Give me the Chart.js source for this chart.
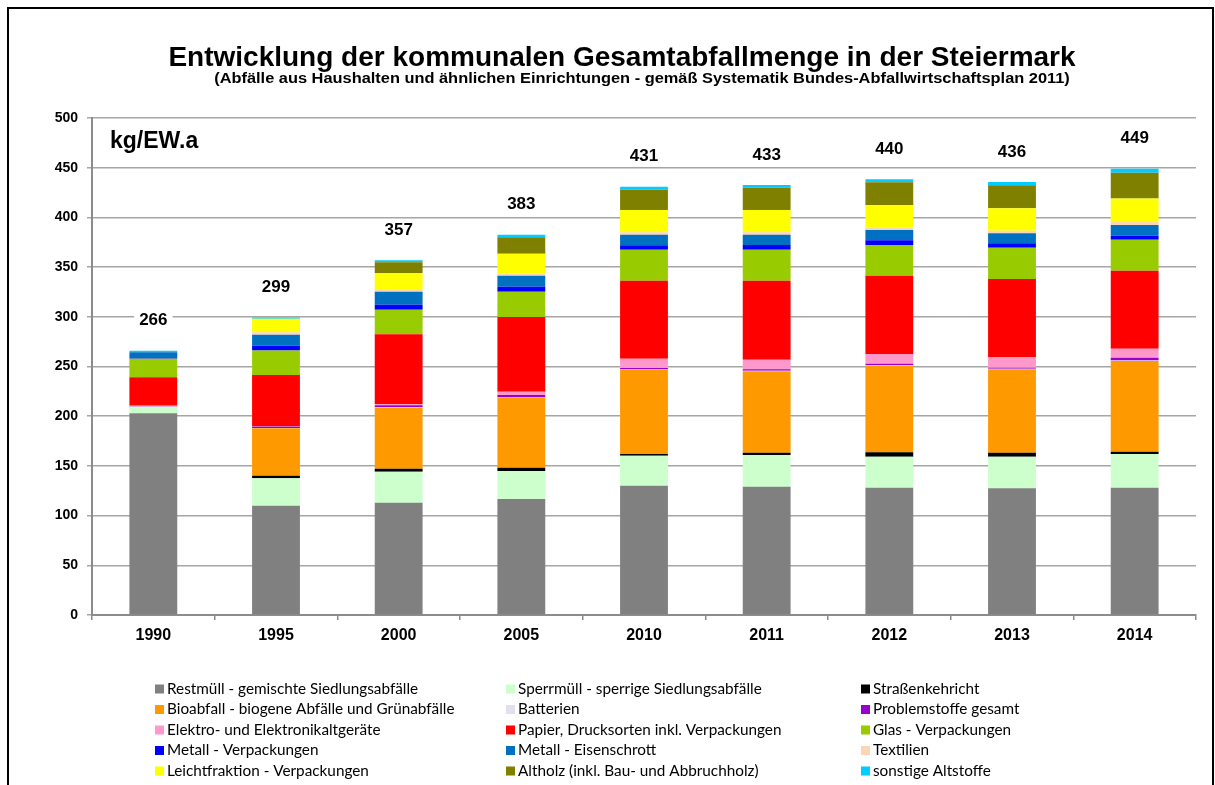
<!DOCTYPE html>
<html>
<head>
<meta charset="utf-8">
<script src="https://cdn.jsdelivr.net/npm/chart.js@4/dist/chart.umd.min.js"></script>
<style>
  html, body { margin: 0; padding: 0; background: #fff; }
  #wrap { position: relative; width: 1215px; height: 785px; }
</style>
</head>
<body>
<div id="wrap"><canvas id="chartCanvas" width="1215" height="785"></canvas></div>
<script>
const years = ['1990', '1995', '2000', '2005', '2010', '2011', '2012', '2013', '2014'];
const totals = [266, 299, 357, 383, 431, 433, 440, 436, 449];

const restmuell      = [203, 110, 113, 116.7, 130.1, 129.1, 128.1, 127.4, 128.1];
const sperrmuell     = [6.5, 27.5, 31.2, 28.2, 30.2, 31.9, 31.2, 31.9, 33.9];
const strassen       = [0, 2.5, 3, 3.3, 1.7, 2.3, 4.4, 4, 2.3];
const bioabfall      = [0, 47.8, 61.4, 70.8, 84.5, 81.9, 87.1, 83.9, 91.2];
const batterien      = [0.3, 0.3, 0.4, 0.4, 0.5, 0.5, 0.5, 0.5, 0.6];
const problemstoffe  = [1, 1.5, 2, 2, 1.5, 1.5, 1.5, 1.1, 2.8];
const elektro        = [0.5, 0.5, 1, 3.3, 9.4, 9.7, 9.8, 10.8, 9];
const papier         = [28, 51.4, 70.4, 75.1, 78.4, 79.4, 78.8, 78.4, 78.5];
const glas           = [18.5, 24.5, 24.8, 25.5, 31.2, 31.2, 30.8, 31.5, 31.2];
const metallVerp     = [0.5, 5, 5, 5, 4.4, 4.7, 4.7, 4.4, 4];
const eisenschrott   = [6, 11, 13.1, 11.1, 10.7, 10.4, 10.4, 10.1, 10.8];
const textilien      = [0, 2.4, 2.3, 2, 2.4, 2.4, 2.3, 2.6, 3.7];
const leichtfraktion = [0, 13.6, 16.2, 20.1, 22.4, 22.4, 22.8, 22.6, 22.8];
const altholz        = [0, 0, 11, 16.5, 20.5, 22.5, 23, 23.1, 26.1];
const sonstige       = [1.5, 1.3, 2, 2.5, 3, 2.7, 3, 3.3, 4];

const series = [
  ['Restmüll - gemischte Siedlungsabfälle', restmuell, '#808080'],
  ['Sperrmüll - sperrige Siedlungsabfälle', sperrmuell, '#CCFFCC'],
  ['Straßenkehricht', strassen, '#000000'],
  ['Bioabfall - biogene Abfälle und Grünabfälle', bioabfall, '#FF9900'],
  ['Batterien', batterien, '#E4DFEC'],
  ['Problemstoffe gesamt', problemstoffe, '#9900CC'],
  ['Elektro- und Elektronikaltgeräte', elektro, '#FF99CC'],
  ['Papier, Drucksorten inkl. Verpackungen', papier, '#FF0000'],
  ['Glas - Verpackungen', glas, '#99CC00'],
  ['Metall - Verpackungen', metallVerp, '#0000FF'],
  ['Metall - Eisenschrott', eisenschrott, '#0070C0'],
  ['Textilien', textilien, '#FCD5B4'],
  ['Leichtfraktion - Verpackungen', leichtfraktion, '#FFFF00'],
  ['Altholz (inkl. Bau- und Abbruchholz)', altholz, '#808000'],
  ['sonstige Altstoffe', sonstige, '#00CCFF']
];

const ARIAL = 'Arial, "Liberation Sans", sans-serif';

// titles, unit, totals, legend and frame
const decorations = {
  id: 'decorations',
  afterDraw(chart) {
    const ctx = chart.ctx;
    const y = chart.scales.y;
    const x = chart.scales.x;
    ctx.save();

    ctx.strokeStyle = '#000';
    ctx.lineWidth = 2;
    ctx.strokeRect(8, 8, 1205, 800);

    ctx.fillStyle = '#000';
    ctx.textAlign = 'center';
    ctx.textBaseline = 'middle';
    ctx.font = 'bold 28px ' + ARIAL;
    ctx.fillText('Entwicklung der kommunalen Gesamtabfallmenge in der Steiermark', 622, 58);

    // subtitle is a bit wider in the original, stretch it horizontally
    ctx.save();
    ctx.translate(642, 79);
    ctx.scale(1.17, 1);
    ctx.font = 'bold 14px ' + ARIAL;
    ctx.fillText('(Abfälle aus Haushalten und ähnlichen Einrichtungen - gemäß Systematik Bundes-Abfallwirtschaftsplan 2011)', 0, 0);
    ctx.restore();

    ctx.textAlign = 'left';
    ctx.font = 'bold 23px ' + ARIAL;
    ctx.fillText('kg/EW.a', 110, 142);

    // totals above the stacks
    ctx.textAlign = 'center';
    ctx.font = 'bold 17px ' + ARIAL;
    years.forEach((yr, i) => {
      let sum = 0;
      chart.data.datasets.forEach(ds => { sum += ds.data[i]; });
      const px = x.getPixelForValue(i);
      const py = y.getPixelForValue(sum) - 30;
      const w = ctx.measureText(String(totals[i])).width + 10;
      ctx.fillStyle = '#fff';
      ctx.fillRect(px - w / 2, py - 10, w, 20);
      ctx.fillStyle = '#000';
      ctx.fillText(String(totals[i]), px, py);
    });

    // legend, 3 columns
    const cols = [155, 506, 861];
    const rowY = [689, 709.5, 730, 750.5, 771];
    ctx.textAlign = 'left';
    ctx.font = '15.3px Lato, "Open Sans", sans-serif';
    chart.data.datasets.forEach((ds, k) => {
      const cx = cols[k % 3];
      const cy = rowY[Math.floor(k / 3)];
      ctx.fillStyle = ds.backgroundColor;
      ctx.fillRect(cx, cy - 4.5, 9, 9);
      ctx.fillStyle = '#000';
      ctx.fillText(ds.label, cx + 12, cy);
    });

    ctx.restore();
  }
};

const ctx = document.getElementById('chartCanvas').getContext('2d');
const chart = new Chart(ctx, {
  type: 'bar',
  data: {
    labels: years,
    datasets: series.map(s => ({
      label: s[0],
      data: s[1],
      backgroundColor: s[2],
      borderWidth: 0,
      barPercentage: 0.39,
      categoryPercentage: 1
    }))
  },
  options: {
    responsive: false,
    animation: false,
    layout: { padding: { top: 118, left: 0, right: 19, bottom: 130 } },
    plugins: {
      legend: { display: false },
      tooltip: { enabled: false }
    },
    scales: {
      x: {
        stacked: true,
        offset: true,
        grid: {
          display: true,
          drawOnChartArea: false,
          offset: true,
          color: '#8c8c8c',
          tickLength: 5,
          lineWidth: 1.5
        },
        border: { color: '#8c8c8c', width: 2 },
        ticks: {
          color: '#000',
          font: { family: ARIAL, size: 16, weight: 'bold' },
          padding: 6
        },
        afterFit(scale) { scale.height = 40; }
      },
      y: {
        stacked: true,
        min: 0,
        max: 500,
        ticks: {
          stepSize: 50,
          color: '#000',
          padding: 9,
          font: { family: ARIAL, size: 14, weight: 'bold' }
        },
        grid: {
          color: '#a6a6a6',
          lineWidth: 1.5,
          tickLength: 5
        },
        border: { color: '#8c8c8c', width: 2 },
        afterFit(scale) { scale.width = 92; }
      }
    }
  },
  plugins: [decorations]
});
</script>
</body>
</html>
